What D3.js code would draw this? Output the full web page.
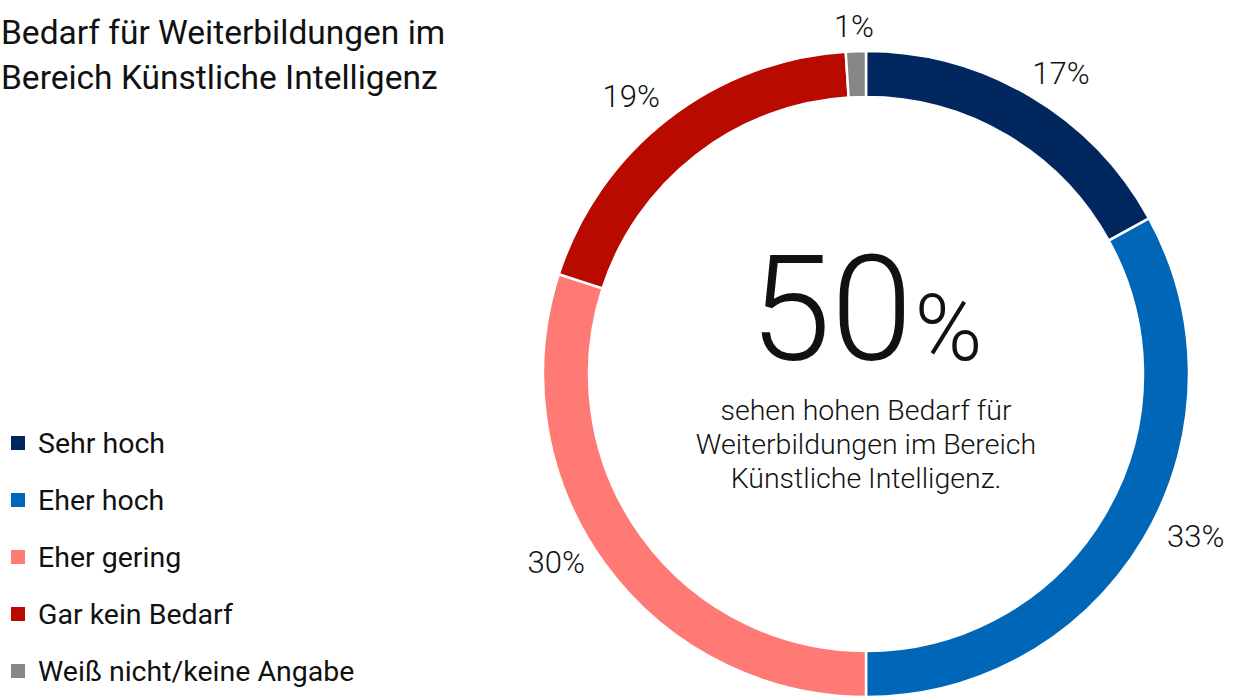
<!DOCTYPE html>
<html><head><meta charset="utf-8">
<script src="https://cdn.jsdelivr.net/npm/d3@7"></script>
<style>
html,body{margin:0;padding:0;background:#fff;}
svg{display:block;font-family:Roboto, "Noto Sans", sans-serif;}
</style></head>
<body>
<script>
const categories = ["Sehr hoch","Eher hoch","Eher gering","Gar kein Bedarf","Weiß nicht/keine Angabe"];
const values = [17,33,30,19,1];
const colors = ["#00285f","#0066b8","#ff7a74","#b90a00","#878787"];
const titleLines = ["Bedarf für Weiterbildungen im","Bereich Künstliche Intelligenz"];
const centerValue = "50";
const centerLines = ["sehen hohen Bedarf für","Weiterbildungen im Bereich","Künstliche Intelligenz."];

const W = 1233, H = 697;
const svg = d3.select("body").append("svg").attr("width",W).attr("height",H);

// title
svg.append("g").selectAll("text").data(titleLines).join("text")
  .attr("x",1).attr("y",(d,i)=>44+i*45)
  .attr("font-size",33.5).attr("fill","#111").text(d=>d);

// legend
const leg = svg.append("g").selectAll("g").data(categories).join("g")
  .attr("transform",(d,i)=>`translate(0,${453+i*57})`);
leg.append("rect").attr("x",11).attr("y",-17).attr("width",14).attr("height",14)
  .attr("fill",(d,i)=>colors[i]);
leg.append("text").attr("x",38).attr("y",0).attr("font-size",28.5).attr("fill","#111").text(d=>d);

// donut
const cx = 866, cy = 374, rOut = 323, rIn = 277;
const data = categories.map((c,i)=>({cat:c,value:values[i],color:colors[i]}));
const pie = d3.pie().value(d=>d.value).sort(null);
const arcs = pie(data);
const arc = d3.arc().innerRadius(rIn).outerRadius(rOut);
const g = svg.append("g").attr("transform",`translate(${cx},${cy})`);
g.selectAll("path").data(arcs).join("path")
  .attr("d",arc).attr("fill",d=>d.data.color)
  .attr("stroke","#fff").attr("stroke-width",2.5);

// labels
const rx = 383, ry = 338, lblShift = -10;
g.selectAll("text.lbl").data(arcs).join("text").attr("class","lbl")
  .attr("x",d=>rx*Math.sin((d.startAngle+d.endAngle)/2))
  .attr("y",d=>lblShift-ry*Math.cos((d.startAngle+d.endAngle)/2))
  .attr("text-anchor","middle").attr("dominant-baseline","central")
  .attr("font-size",31).attr("font-weight",300).attr("fill","#111")
  .text(d=>d.data.value+"%");

// center text
const ct = g.append("text").attr("x",0).attr("y",-14).attr("text-anchor","middle")
  .attr("font-weight",300).attr("fill","#111");
ct.append("tspan").attr("font-size",147).text(centerValue);
ct.append("tspan").attr("font-size",92).attr("dx",2).text("%");
g.append("g").selectAll("text").data(centerLines).join("text")
  .attr("x",0).attr("y",(d,i)=>46+i*34).attr("text-anchor","middle")
  .attr("font-size",28.5).attr("font-weight",300).attr("fill","#111").text(d=>d);
</script>
</body></html>
